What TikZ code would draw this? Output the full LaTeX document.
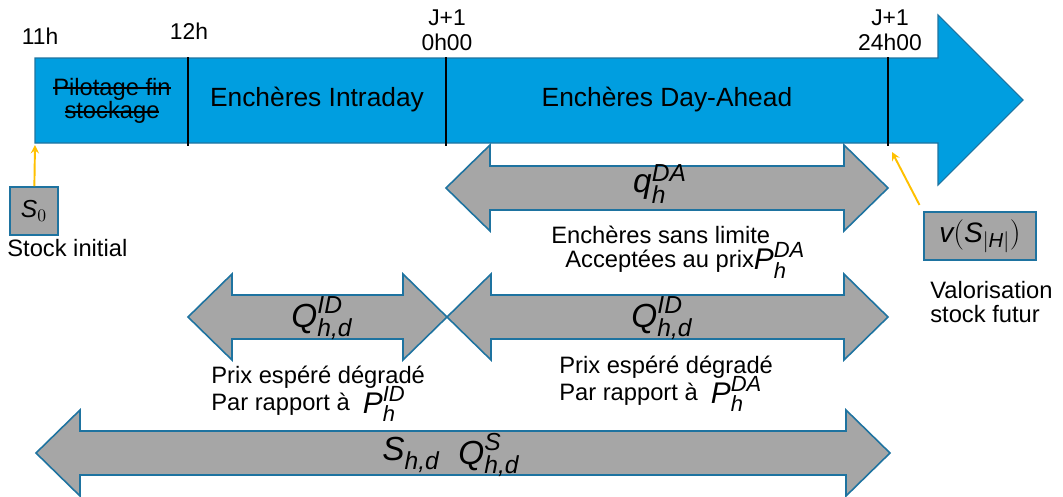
\documentclass[tikz,border=0pt]{standalone}
\usepackage{amsmath}
\usepackage{fontspec}
\setmainfont{Liberation Sans}
\usetikzlibrary{positioning,arrows,calc}
\DeclareMathSizes{19}{19}{14}{10}
\DeclareMathSizes{17}{17}{12.5}{9}
\DeclareMathSizes{16}{16}{11.5}{9}
\definecolor{edfb}{RGB}{0,158,224}
\definecolor{edfd}{RGB}{30,115,160}
\definecolor{edfg}{RGB}{166,166,166}
\definecolor{edfy}{RGB}{255,192,0}
\newcommand{\ctime}{edfb}
\newcommand{\cqty}{edfg}
\newcommand{\sym}[3]{$\textit{#1}_{\textit{#2}}^{\textit{#3}}$}
\newcommand{\bsym}[3]{\smash{\raisebox{-1.5pt}{\fontsize{17}{17}\selectfont\sym{#1}{#2}{#3}}}}
\newsavebox{\strkbox}
\newcommand{\strk}[1]{\sbox{\strkbox}{#1}\rlap{\rule[0.27em]{\wd\strkbox}{0.07em}}\usebox{\strkbox}}
% double arrow: name, left tip, right tip, middle line
\newcommand{\dblarrow}[4]{%
	\draw[dbl] (#2,#4) -- ++(44,-43) -- ++(0,21) -- ({#3-44},{#4-22}) -- ++(0,-21) -- (#3,#4)
		-- ++(-44,43) -- ++(0,-21) -- ({#2+44},{#4+22}) -- ++(0,21) -- cycle;
	\coordinate (#1) at ({(#2+#3)/2},#4);
}
\tikzset{
	every node/.style = { align = center },
	hour/.style = { font=\fontsize{13}{14}\selectfont },
	phase/.style = { font=\fontsize{15}{17}\selectfont },
	note/.style = { align=left, anchor=west, inner sep=0, font=\fontsize{13.5}{13.6}\selectfont },
	qty/.style = { inner sep=0, font=\fontsize{19}{20}\selectfont },
	stk/.style = { rectangle, draw=edfd, line width=1.2pt, fill=\cqty, minimum height=27pt, inner sep=0 },
	tl/.style = { fill=\ctime, draw=edfd, line width=0.6pt },
	tck/.style = { draw=black, line width=1.4pt },
	dbl/.style = { fill=\cqty, draw=edfd, line width=0.9pt },
	yel/.style = { draw=edfy, line width=1.1pt, -stealth },
}

\begin{document}
\begin{tikzpicture}[x=0.02cm,y=-0.02cm]
\useasboundingbox (0,0) rectangle (1063,497);

% time line
\draw[tl] (35,58) -- (938,58) -- (938,15) -- (1023,100) -- (938,185) -- (938,143) -- (35,143) -- cycle;
\foreach \x/\n in {188/12, 446/0, 888/24}
	\draw[tck] (\x,57) -- (\x,146) coordinate (t\n);
\coordinate (t11) at (35,145);
\coordinate (v24) at (892,152);

\node (h11)  [hour] at (40,36)  {11h};
\node (h12)  [hour] at (189,31) {12h};
\node (h0)   [hour] at (447,30) {J+1\\0h00};
\node (h24)  [hour] at (890,30) {J+1\\24h00};

\node (pil)  [phase,font=\fontsize{13.5}{13.5}\selectfont] at (112,101) {\strk{Pilotage fin}\\\strk{stockage}};
\node (id)   [phase] at (317,100) {Enchères Intraday};
\node (da)   [phase] at (667,100) {Enchères Day-Ahead};

% quantities
\dblarrow{qda}{446}{888}{188}
\node (lqda) [qty] at (660,184) {\sym{q}{h}{DA}};
\node (nda)  [note] at (551,249) {Enchères sans limite\\\hspace{8pt}Acceptées au prix\bsym{P}{h}{DA}};

\dblarrow{qidl}{188}{447}{317}
\node (lqidl) [qty] at (322,318) {\sym{Q}{h,d}{ID}};
\node (nidl) [note] at (211,391) {Prix espéré dégradé\\[2pt]Par rapport à \ \bsym{P}{h}{ID}};

\dblarrow{qidr}{447}{888}{317}
\node (lqidr) [qty] at (662,318) {\sym{Q}{h,d}{ID}};
\node (nidr) [note] at (559,381) {Prix espéré dégradé\\[2pt]Par rapport à \ \bsym{P}{h}{DA}};

\dblarrow{qs}{36}{890}{453}
\node (ls)   [qty] at (411,455) {\sym{S}{h,d}{}};
\node (lqs)  [qty] at (489,455) {\sym{Q}{h,d}{S}};

% stocks
\node (s0)   [stk,minimum width=27pt,font=\fontsize{14}{14}\selectfont] at (34,211) {$\textit{S}_{0}$};
\node (sinit) [note] at (7,248) {Stock initial};
\draw[yel] (s0) -- (t11);

\node (vs)   [stk,minimum width=64pt,font=\fontsize{16}{16}\selectfont] at (980,236) {$\textit{v}(\textit{S}_{|\textit{H}|})$};
\node (val)  [note] at (930,302) {Valorisation\\stock futur};
\draw[yel,shorten <=4pt] (vs.north west) -- (v24);

\end{tikzpicture}
\end{document}
